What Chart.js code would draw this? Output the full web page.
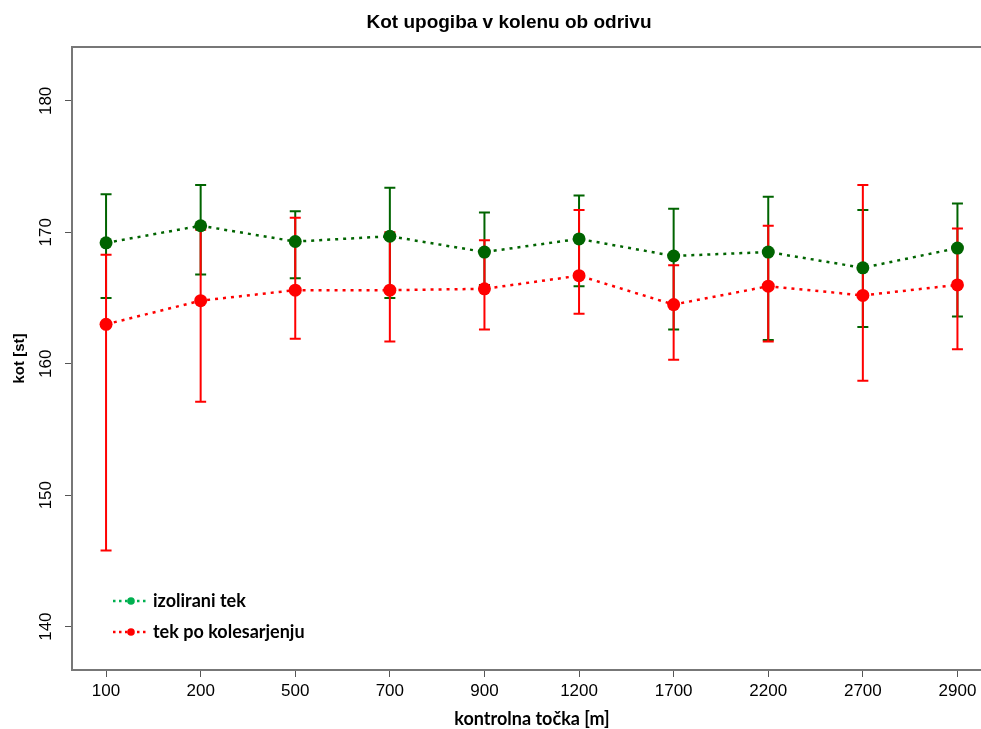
<!DOCTYPE html>
<html>
<head>
<meta charset="utf-8">
<title>Kot upogiba v kolenu ob odrivu</title>
<script src="https://cdn.jsdelivr.net/npm/chart.js@4/dist/chart.umd.min.js"></script>
<style>
  html, body { margin: 0; padding: 0; background: #fff; overflow: hidden; }
  #wrap { width: 998px; height: 729px; }
</style>
</head>
<body>
<div id="wrap"><canvas id="knee" width="998" height="729"></canvas></div>
<script>
// control points along the course
const points = ['100', '200', '500', '700', '900', '1200', '1700', '2200', '2700', '2900'];
const yTicks = [140, 150, 160, 170, 180];

// isolated run
const isoMean = [169.2, 170.5, 169.3, 169.7, 168.5, 169.5, 168.2, 168.5, 167.3, 168.8];
const isoLow  = [165.0, 166.8, 166.5, 165.0, 166.0, 165.9, 162.6, 161.8, 162.8, 163.6];
const isoHigh = [172.9, 173.6, 171.6, 173.4, 171.5, 172.8, 171.8, 172.7, 171.7, 172.2];

// run after cycling
const cycMean = [163.0, 164.8, 165.6, 165.6, 165.7, 166.7, 164.5, 165.9, 165.2, 166.0];
const cycLow  = [145.8, 157.1, 161.9, 161.7, 162.6, 163.8, 160.3, 161.7, 158.7, 161.1];
const cycHigh = [168.3, 170.2, 171.1, 170.0, 169.4, 171.7, 167.5, 170.5, 173.6, 170.3];

const GREEN = '#006400';
const RED = '#ff0000';

const toXY = arr => arr.map((v, i) => ({ x: i + 1, y: v }));

// whiskers drawn under the points, green first, red on top
const errorBars = {
  id: 'errorBars',
  beforeDatasetsDraw(chart) {
    const { ctx, scales: { x, y } } = chart;
    const sets = [[isoLow, isoHigh, GREEN], [cycLow, cycHigh, RED]];
    ctx.save();
    ctx.lineWidth = 2;
    sets.forEach(([lo, hi, col]) => {
      ctx.strokeStyle = col;
      lo.forEach((v, i) => {
        const px = x.getPixelForValue(i + 1);
        const y1 = y.getPixelForValue(v);
        const y2 = y.getPixelForValue(hi[i]);
        ctx.beginPath();
        ctx.moveTo(px, y1); ctx.lineTo(px, y2);
        ctx.moveTo(px - 5.5, y1); ctx.lineTo(px + 5.5, y1);
        ctx.moveTo(px - 5.5, y2); ctx.lineTo(px + 5.5, y2);
        ctx.stroke();
      });
    });
    ctx.restore();
  }
};

// title, axis titles, rotated y labels, top frame line and legend
const decorations = {
  id: 'decorations',
  afterDraw(chart) {
    const { ctx, chartArea: a, scales: { y } } = chart;
    ctx.save();
    ctx.strokeStyle = '#777';
    ctx.lineWidth = 2;
    ctx.beginPath();
    ctx.moveTo(a.left - 1, a.top);
    ctx.lineTo(a.right, a.top);
    ctx.stroke();

    ctx.fillStyle = '#000';
    ctx.textAlign = 'center';
    ctx.textBaseline = 'alphabetic';
    ctx.font = 'bold 19px "Liberation Sans", Arial, sans-serif';
    ctx.fillText('Kot upogiba v kolenu ob odrivu', 509, 28);

    ctx.textBaseline = 'middle';
    ctx.font = '17px "Liberation Sans", Arial, sans-serif';
    yTicks.forEach(t => {
      ctx.save();
      ctx.translate(46, y.getPixelForValue(t));
      ctx.rotate(-Math.PI / 2);
      ctx.fillText(String(t), 0, 0);
      ctx.restore();
    });

    ctx.save();
    ctx.font = 'bold 15px "Liberation Sans", Arial, sans-serif';
    ctx.translate(20, (a.top + a.bottom) / 2);
    ctx.rotate(-Math.PI / 2);
    ctx.fillText('kot [st]', 0, 0);
    ctx.restore();

    ctx.font = 'bold 18px Lato, "Open Sans", sans-serif';
    ctx.fillText('kontrolna točka [m]', 532, 719);

    const items = [['izolirani tek', '#00b050', 601], ['tek po kolesarjenju', RED, 632]];
    items.forEach(([label, col, ly]) => {
      ctx.strokeStyle = col;
      ctx.fillStyle = col;
      ctx.lineWidth = 2.5;
      ctx.setLineDash([2.5, 3.5]);
      ctx.beginPath();
      ctx.moveTo(113, ly); ctx.lineTo(146, ly);
      ctx.stroke();
      ctx.setLineDash([]);
      ctx.beginPath();
      ctx.arc(131, ly, 3.8, 0, Math.PI * 2);
      ctx.fill();
      ctx.fillStyle = '#000';
      ctx.textAlign = 'left';
      ctx.font = 'bold 18px Lato, "Open Sans", sans-serif';
      ctx.fillText(label, 153, ly);
    });
    ctx.restore();
  }
};

new Chart(document.getElementById('knee'), {
  type: 'line',
  data: {
    datasets: [
      {
        label: 'izolirani tek',
        data: toXY(isoMean),
        borderColor: GREEN,
        backgroundColor: GREEN,
        borderWidth: 2.5,
        borderDash: [3, 5],
        pointRadius: 6.5,
        pointBorderWidth: 0,
        pointBackgroundColor: GREEN,
        tension: 0
      },
      {
        label: 'tek po kolesarjenju',
        data: toXY(cycMean),
        borderColor: RED,
        backgroundColor: RED,
        borderWidth: 2.5,
        borderDash: [3, 5],
        pointRadius: 6.5,
        pointBorderWidth: 0,
        pointBackgroundColor: RED,
        tension: 0
      }
    ]
  },
  options: {
    responsive: false,
    animation: false,
    layout: { padding: { top: 47, right: 1, left: 0, bottom: 0 } },
    plugins: {
      legend: { display: false },
      title: { display: false },
      tooltip: { enabled: false }
    },
    scales: {
      x: {
        type: 'linear',
        min: 0.64,
        max: 10.36,
        afterBuildTicks: s => { s.ticks = points.map((p, i) => ({ value: i + 1 })); },
        afterFit: s => { s.height = 59; },
        ticks: {
          callback: v => points[v - 1],
          color: '#000',
          font: { family: '"Liberation Sans", Arial, sans-serif', size: 17 },
          padding: 4,
          maxRotation: 0,
          autoSkip: false
        },
        grid: { drawOnChartArea: false, tickLength: 7, color: '#555', lineWidth: 1 },
        border: { display: true, color: '#777', width: 2 }
      },
      y: {
        min: 136.7,
        max: 184.1,
        afterBuildTicks: s => { s.ticks = yTicks.map(v => ({ value: v })); },
        afterFit: s => { s.width = 72; },
        ticks: { display: false },
        grid: { drawOnChartArea: false, tickLength: 7, color: '#555', lineWidth: 1 },
        border: { display: true, color: '#777', width: 2 }
      }
    }
  },
  plugins: [errorBars, decorations]
});
</script>
</body>
</html>
